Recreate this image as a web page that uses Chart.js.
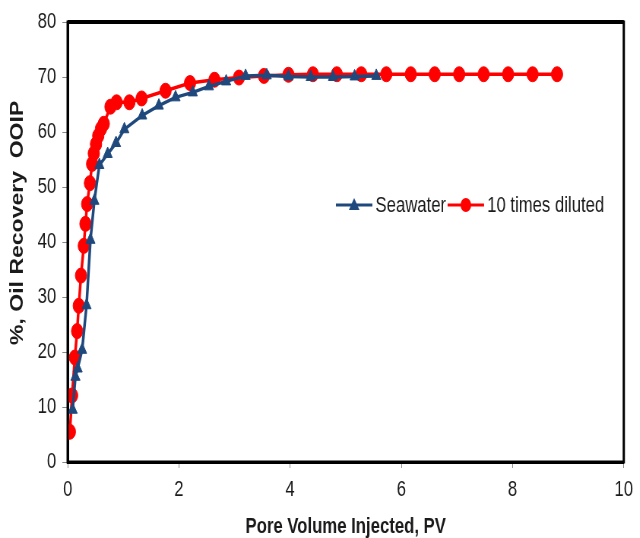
<!DOCTYPE html>
<html>
<head>
<meta charset="utf-8">
<script src="https://cdn.jsdelivr.net/npm/chart.js@4"></script>
<style>
  html, body { margin: 0; padding: 0; background: #fff; overflow: hidden; }
  /* the original picture is squeezed sideways, so draw wider and scale back */
  #wrap { width: 842px; height: 538px; transform: scaleX(0.76); transform-origin: 0 0; }
</style>
</head>
<body>
<div id="wrap"><canvas id="chartCanvas" width="842" height="538"></canvas></div>
<script>
// Seawater series (pore volume, recovery %)
var seawaterPV = [0.09, 0.14, 0.18, 0.26, 0.34, 0.41, 0.48, 0.57, 0.72, 0.87, 1.02, 1.34, 1.64, 1.94, 2.25, 2.54, 2.85, 3.2, 3.58, 3.97, 4.37, 4.77, 5.16, 5.55]
var seawaterRec = [9.5, 15.5, 17, 20.4, 28.5, 40.4, 47.5, 54, 56, 58, 60.5, 63, 64.8, 66.3, 67.2, 68.3, 69.2, 70.2, 70.3, 70.1, 70.0, 70.0, 70.1, 70.2]

// 10 times diluted series
var dilutedPV = [0.04, 0.08, 0.13, 0.17, 0.2, 0.24, 0.29, 0.32, 0.35, 0.4, 0.44, 0.47, 0.51, 0.55, 0.6, 0.65, 0.77, 0.88, 1.11, 1.33, 1.76, 2.2, 2.64, 3.08, 3.53, 3.97, 4.41, 4.84, 5.28, 5.73, 6.17, 6.6, 7.04, 7.48, 7.92, 8.36, 8.8]
var dilutedRec = [5.5, 12.1, 19, 23.8, 28.4, 33.9, 39.3, 43.3, 46.9, 50.7, 54.2, 56.1, 57.8, 59.3, 60.6, 61.5, 64.6, 65.4, 65.4, 66.1, 67.5, 68.9, 69.5, 69.9, 70.2, 70.4, 70.5, 70.5, 70.5, 70.5, 70.5, 70.5, 70.5, 70.5, 70.5, 70.5, 70.5]

var seriesLabels = ['Seawater', '10 times diluted']
var xTitle = 'Pore Volume Injected, PV'
var yTitle = '      %, Oil Recovery  OOIP'   // leading blanks push it up a bit, like the original

var blue = '#1f497d'
var red = '#ff0000'
var fontFam = '"Liberation Sans", Arial, sans-serif'

function toPoints(xs, ys) {
    return xs.map((x, i) => ({ x: x, y: ys[i] }))
}

// frame round the plot area + legend drawn inside the plot
var framePlugin = {
    id: 'frame',
    afterDraw(chart) {
        var ctx = chart.ctx
        var a = chart.chartArea
        ctx.save()
        ctx.strokeStyle = '#000'
        ctx.lineWidth = 3
        ctx.strokeRect(a.left, a.top, a.right - a.left, a.bottom - a.top)
        ctx.lineWidth = 4
        ctx.beginPath()
        ctx.moveTo(a.left, a.top)
        ctx.lineTo(a.right, a.top)
        ctx.stroke()

        // legend
        var y = 205
        var x = 442
        ctx.font = '22px ' + fontFam
        ctx.textBaseline = 'middle'
        chart.data.datasets.forEach((ds, i) => {
            ctx.strokeStyle = ds.borderColor
            ctx.fillStyle = ds.borderColor
            ctx.lineWidth = 3
            ctx.beginPath()
            ctx.moveTo(x, y)
            ctx.lineTo(x + 48, y)
            ctx.stroke()
            ctx.beginPath()
            if (ds.pointStyle === 'triangle') {
                ctx.moveTo(x + 24, y - 7)
                ctx.lineTo(x + 31, y + 5)
                ctx.lineTo(x + 17, y + 5)
                ctx.closePath()
            } else {
                ctx.arc(x + 24, y, 7, 0, Math.PI * 2)
            }
            ctx.fill()
            ctx.fillStyle = '#1a1a1a'
            ctx.fillText(ds.label, x + 52, y + 1)
            x = x + 52 + ctx.measureText(ds.label).width + 2
        })
        ctx.restore()
    }
}

var ctx = document.getElementById('chartCanvas')
new Chart(ctx, {
    type: 'scatter',
    data: {
        datasets: [
            {
                label: seriesLabels[0],
                data: toPoints(seawaterPV, seawaterRec),
                showLine: true,
                borderColor: blue,
                backgroundColor: blue,
                borderWidth: 3.5,
                pointStyle: 'triangle',
                pointRadius: 7,
                pointBorderWidth: 1
            },
            {
                label: seriesLabels[1],
                data: toPoints(dilutedPV, dilutedRec),
                showLine: true,
                borderColor: red,
                backgroundColor: red,
                borderWidth: 3.5,
                pointStyle: 'circle',
                pointRadius: 7.5,
                pointBorderWidth: 1
            }
        ]
    },
    options: {
        responsive: false,
        animation: false,
        devicePixelRatio: 1,
        layout: { padding: { top: 22, right: 16, left: 0, bottom: 0 } },
        plugins: {
            legend: { display: false },
            tooltip: { enabled: false }
        },
        scales: {
            x: {
                type: 'linear',
                min: 0,
                max: 10,
                ticks: { stepSize: 2, color: '#1a1a1a', font: { size: 22, family: fontFam }, padding: 9 },
                grid: { drawOnChartArea: false, drawTicks: true, tickLength: 6, color: '#888' },
                border: { color: '#000', width: 3 },
                title: {
                    display: true,
                    text: xTitle,
                    color: '#1a1a1a',
                    font: { size: 22, weight: 'bold', family: fontFam, lineHeight: 1.0 },
                    padding: { top: 0, bottom: 0 }
                },
                afterFit(scale) { scale.height = 76 }
            },
            y: {
                min: 0,
                max: 80,
                ticks: { stepSize: 10, color: '#1a1a1a', font: { size: 22, family: fontFam }, padding: 8 },
                grid: { drawOnChartArea: false, drawTicks: true, tickLength: 7, color: '#888' },
                border: { color: '#000', width: 3 },
                title: {
                    display: true,
                    text: yTitle,
                    color: '#1a1a1a',
                    font: { size: 23, weight: 'bold', family: fontFam },
                    padding: { top: 10, bottom: 0 }
                },
                afterFit(scale) { scale.width = 89 }
            }
        }
    },
    plugins: [framePlugin]
})
</script>
</body>
</html>
